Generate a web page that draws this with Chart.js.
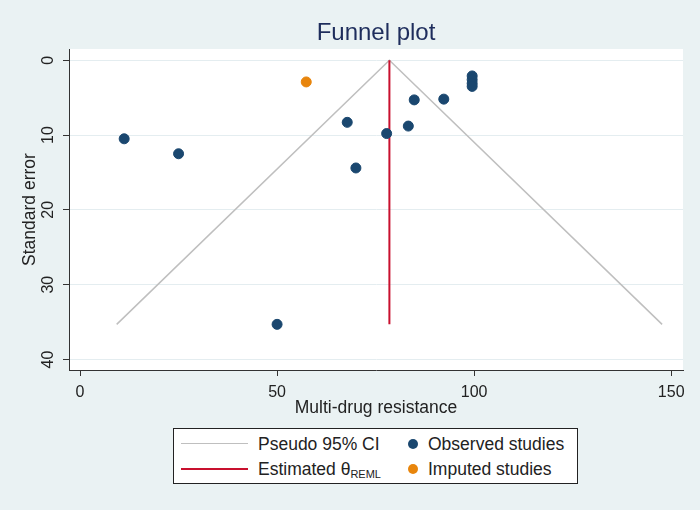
<!DOCTYPE html>
<html>
<head>
<meta charset="utf-8">
<script src="https://cdn.jsdelivr.net/npm/chart.js@4"></script>
<style>
    body { margin: 0; background: #eaf2f3; }
    .wrap { position: relative; width: 700px; height: 510px; background: #eaf2f3; font-family: "Liberation Sans", Arial, sans-serif; }
    #chart { position: absolute; left: 0; top: 0; }
    .title { position: absolute; left: 69px; width: 614px; top: 18px; height: 28px; line-height: 28px; text-align: center; font-size: 24px; color: #1e2d5c; }
    .legend { position: absolute; left: 173px; top: 428px; width: 403px; height: 54px; background: #fff; border: 1px solid #222; font-size: 17.5px; color: #222; }
    .legend .item { position: absolute; height: 20px; line-height: 20px; white-space: nowrap; }
    .legend .line { position: absolute; width: 67px; height: 0; }
    .legend .dot { position: absolute; width: 10px; height: 10px; border-radius: 50%; }
    .legend sub { font-size: 11px; vertical-align: -3px; }
</style>
</head>
<body>
<div class="wrap">
    <canvas id="chart" width="700" height="510"></canvas>
    <div class="title">Funnel plot</div>
    <div class="legend" id="legend"></div>
</div>
<script>
// values
const xTicks = [0, 50, 100, 150];
const seTicks = [0, 10, 20, 30, 40];

// observed studies (effect, standard error)
const obsX = [11.2, 25.0, 50.0, 67.8, 70.0, 77.8, 83.3, 84.8, 92.3, 99.5, 99.5, 99.5, 99.5];
const obsSE = [10.5, 12.5, 35.3, 8.3, 14.4, 9.8, 8.8, 5.3, 5.2, 2.1, 2.6, 3.1, 3.5];

// imputed studies (trim and fill)
const impX = [57.4];
const impSE = [2.9];

// pseudo 95% CI funnel and REML estimate line
const funnelX = [9.3, 78.5, 147.7];
const funnelSE = [35.3, 0, 35.3];
const thetaX = [78.5, 78.5];
const thetaSE = [0, 35.3];

const colors = {
    observed: '#1a476f',
    imputed: '#e8850c',
    theta: '#c8102e',
    ci: '#bfbfbf'
};

const toPoints = (xs, ys) => xs.map((x, i) => ({ x: x, y: ys[i] }));

const font = 'Liberation Sans';

new Chart(document.getElementById('chart'), {
    type: 'scatter',
    data: {
        datasets: [
            {
                label: 'Observed studies',
                data: toPoints(obsX, obsSE),
                backgroundColor: colors.observed,
                borderColor: colors.observed,
                pointRadius: 5,
                order: 0
            },
            {
                label: 'Imputed studies',
                data: toPoints(impX, impSE),
                backgroundColor: colors.imputed,
                borderColor: colors.imputed,
                pointRadius: 5,
                order: 0
            },
            {
                label: 'Estimated θREML',
                type: 'line',
                data: toPoints(thetaX, thetaSE),
                borderColor: colors.theta,
                borderWidth: 2,
                pointRadius: 0,
                order: 1
            },
            {
                label: 'Pseudo 95% CI',
                type: 'line',
                data: toPoints(funnelX, funnelSE),
                borderColor: colors.ci,
                borderWidth: 1.5,
                pointRadius: 0,
                order: 2
            }
        ]
    },
    options: {
        responsive: false,
        animation: false,
        layout: { padding: { left: 0, right: 17, top: 49, bottom: 91.5 } },
        plugins: {
            legend: { display: false },
            tooltip: { enabled: false },
            title: { display: false }
        },
        scales: {
            x: {
                type: 'linear',
                min: -2.8,
                max: 153,
                afterBuildTicks: s => { s.ticks = xTicks.map(v => ({ value: v })); },
                afterFit: s => { s.height = 48.5; },
                grid: { drawOnChartArea: false, drawTicks: true, tickLength: 6, tickColor: '#333' },
                border: { display: true, color: '#333', width: 1 },
                ticks: { color: '#222', padding: 7, font: { family: font, size: 16 } },
                title: {
                    display: true,
                    text: 'Multi-drug resistance',
                    color: '#222',
                    font: { family: font, size: 17.5 },
                    padding: { top: 0, bottom: 0 }
                }
            },
            y: {
                type: 'linear',
                reverse: true,
                min: -1.5,
                max: 41.4,
                afterBuildTicks: s => { s.ticks = seTicks.map(v => ({ value: v })); },
                afterFit: s => { s.width = 69; },
                grid: { color: '#e4edf0', lineWidth: 1, drawTicks: true, tickLength: 6, tickColor: '#333' },
                border: { display: true, color: '#333', width: 1 },
                ticks: {
                    color: '#222',
                    padding: 6,
                    minRotation: 90,
                    maxRotation: 90,
                    crossAlign: 'center',
                    font: { family: font, size: 16 }
                },
                title: {
                    display: true,
                    text: 'Standard error',
                    color: '#222',
                    font: { family: font, size: 17.5 },
                    padding: { top: 19.5, bottom: 0 }
                }
            }
        }
    },
    plugins: [{
        id: 'plotBackground',
        beforeDraw: chart => {
            const { ctx, chartArea } = chart;
            ctx.save();
            ctx.fillStyle = '#ffffff';
            ctx.fillRect(chartArea.left, chartArea.top, chartArea.right - chartArea.left, chartArea.bottom - chartArea.top);
            ctx.restore();
        }
    }]
});

// legend in two columns, theta with subscript as real text
const legendItems = [
    { kind: 'line', color: colors.ci, html: 'Pseudo 95% CI', x: 7, y: 5 },
    { kind: 'line', color: colors.theta, html: 'Estimated θ<sub>REML</sub>', x: 7, y: 30 },
    { kind: 'dot', color: colors.observed, html: 'Observed studies', x: 234, y: 5 },
    { kind: 'dot', color: colors.imputed, html: 'Imputed studies', x: 234, y: 30 }
];

const legend = document.getElementById('legend');
legendItems.forEach(item => {
    const mark = document.createElement('div');
    if (item.kind === 'line') {
        mark.className = 'line';
        mark.style.left = item.x + 'px';
        mark.style.top = (item.y + 9) + 'px';
        mark.style.borderTop = (item.color === colors.theta ? 2 : 1.5) + 'px solid ' + item.color;
    } else {
        mark.className = 'dot';
        mark.style.left = item.x + 'px';
        mark.style.top = (item.y + 5) + 'px';
        mark.style.background = item.color;
    }
    legend.appendChild(mark);

    const label = document.createElement('div');
    label.className = 'item';
    label.style.left = (item.kind === 'line' ? item.x + 77 : item.x + 20) + 'px';
    label.style.top = item.y + 'px';
    label.innerHTML = item.html;
    legend.appendChild(label);
});
</script>
</body>
</html>
